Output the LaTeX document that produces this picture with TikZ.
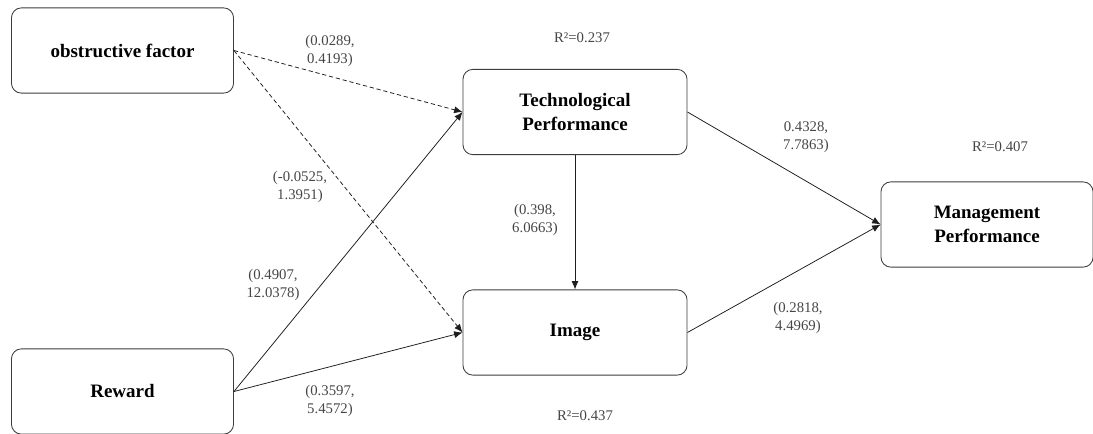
\documentclass[tikz,border=0pt]{standalone}
\usepackage{fontspec}
\setmainfont{Liberation Serif}[Ligatures=TeX]
\usetikzlibrary{positioning,arrows.meta}
\definecolor{boxcol}{RGB}{60,60,60}
\definecolor{linecol}{RGB}{30,30,30}
\definecolor{labcol}{RGB}{70,70,70}

\begin{document}
\begin{tikzpicture}[
  x=0.025cm, y=-0.025cm,
  construct/.style={rectangle,rounded corners=7pt,draw=boxcol,line width=0.6pt,
                    align=center,font=\rmfamily\fontsize{13.5}{17.5}\selectfont\bfseries,
                    minimum width=5.55cm,minimum height=2.13cm,inner sep=0pt},
  path/.style ={draw=linecol,line width=0.55pt,-{Latex[length=6pt,width=5pt]}},
  nspath/.style={path,dash pattern=on 3pt off 2pt},
  coef/.style ={align=center,font=\rmfamily\fontsize{10.5}{12.8}\selectfont,text=labcol},
  rsq/.style  ={font=\rmfamily\fontsize{10.5}{12.8}\selectfont,text=labcol}
]
\useasboundingbox (0,0) rectangle (1093,434);
\node[construct] (obs)  at (122.5, 50.5) {obstructive factor};
\node[construct] (rew)  at (122.5,391.5) {Reward};
\node[construct,minimum width=5.6cm] (tech) at (575,112)   {Technological\\Performance};
\node[construct,minimum width=5.6cm] (img)  at (575,332.5) {Image};
\node[construct,minimum width=5.3cm] (mgmt) at (987,224.5) {Management\\Performance};
\draw[nspath] (obs.east) -- (tech.west);
\draw[nspath] (obs.east) -- (img.west);
\draw[path] (rew.east) -- (tech.west);
\draw[path] (rew.east) -- (img.west);
\draw[path] (tech.south) -- (img.north);
\draw[path] (tech.east) -- (mgmt.west);
\draw[path] (img.east) -- (mgmt.west);
\node[coef] (c1) at (330,51)  {(0.0289,\\0.4193)};
\node[coef] (c2) at (300,187) {(-0.0525,\\1.3951)};
\node[coef] (c3) at (273,285) {(0.4907,\\12.0378)};
\node[coef] (c4) at (330,401) {(0.3597,\\5.4572)};
\node[coef] (c5) at (535,220) {(0.398,\\6.0663)};
\node[coef] (c6) at (806,137) {0.4328,\\7.7863)};
\node[coef] (c7) at (798,318) {(0.2818,\\4.4969)};
\node[rsq] (r1) at (582,38)  {R²=0.237};
\node[rsq] (r2) at (585,416) {R²=0.437};
\node[rsq] (r3) at (1000,147) {R²=0.407};
\end{tikzpicture}
\end{document}
